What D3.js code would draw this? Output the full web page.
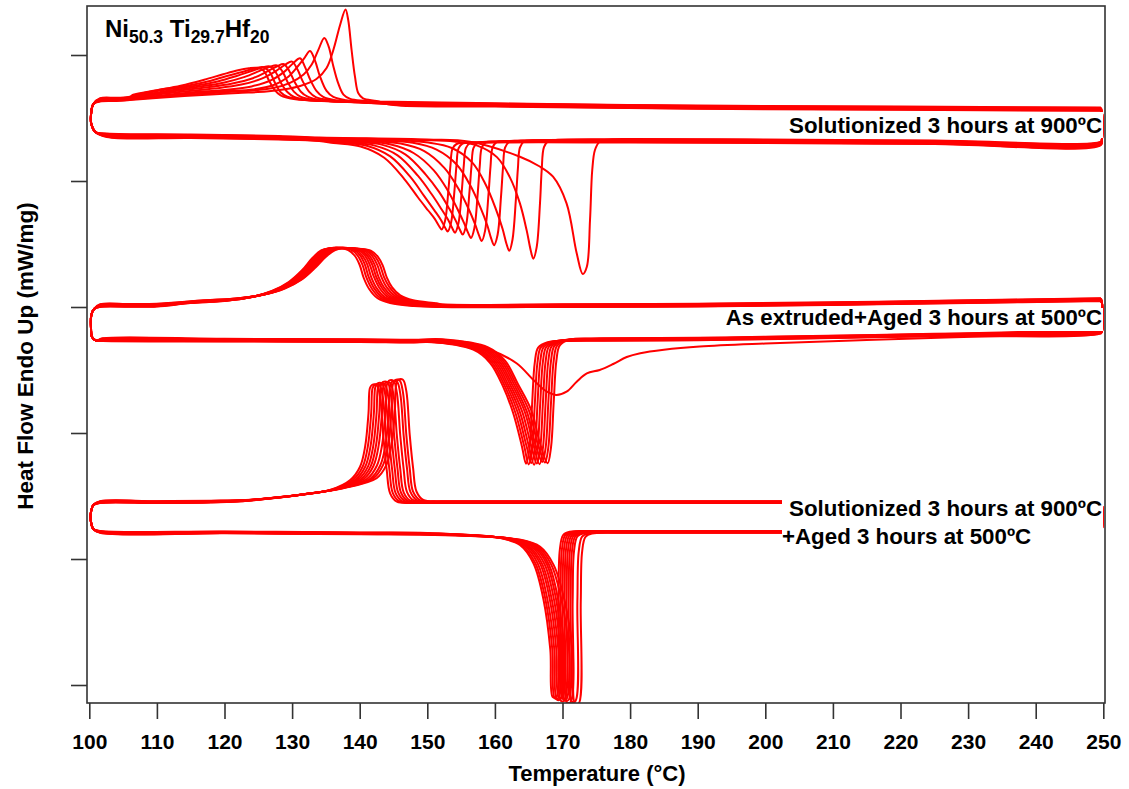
<!DOCTYPE html>
<html>
<head>
<meta charset="utf-8">
<script src="https://cdn.jsdelivr.net/npm/d3@7"></script>
<style>
  body { margin: 0; background: #fff; }
  text { font-family: "Liberation Sans", Arial, sans-serif; font-weight: bold; fill: #000; }
</style>
</head>
<body>
<svg id="chart" width="1129" height="789"></svg>
<script>
// ---- axes ----
const tempDomain = [99.66, 250.25];
const flowDomain = [-0.18, 6.79];
const xTicks = [100, 110, 120, 130, 140, 150, 160, 170, 180, 190, 200, 210, 220, 230, 240, 250];
const yTicks = [0, 1.26, 2.52, 3.78, 5.04, 6.30];

// ---- Solutionized 3 h at 900 ºC : shared baselines [T, heat flow] ----
const g1UpperBase = [[101.6,5.835],[104,5.84],[106,5.85],[145,5.80],[160,5.785],[190,5.762],[220,5.752],[249.65,5.742]];
const g1LowerBase = [[102.6,5.515],[115,5.505],[128,5.49],[134,5.475],[180,5.46],[200,5.455],[225,5.445],[249.65,5.435]];
const g1LeftTurn = [[100.6,5.81],[100.25,5.70],[100.3,5.61],[100.9,5.53]];
const g1RightTurn = [[249.8,5.46],[249.85,5.60],[249.8,5.72]];
const g1CoolShift = [0, 0.004, 0.008, 0.011, 0.014, 0.018, 0.021, 0.025, 0.028, 0.032];
const g1HeatShift = [0, -0.004, -0.008, -0.012, -0.016, -0.019, -0.023, -0.027, -0.031, -0.035];
// cooling exotherms, one list per thermal cycle
const g1Cool = [
  [[112,5.88],[118,5.905],[122,5.92],[126.2,5.935],[128.7,5.955],[131.2,5.99],[133.6,6.06],[135.1,6.17],[136.1,6.35],[137.1,6.60],[137.9,6.755],[138.3,6.65],[138.8,6.35],[139.3,6.083],[139.8,5.917],[140.5,5.867],[142.5,5.84]],
  [[112,5.885],[118,5.915],[123,5.935],[127.2,5.965],[129.7,6.017],[131.7,6.10],[132.9,6.20],[133.9,6.35],[134.76,6.467],[135.4,6.383],[136.1,6.183],[136.8,6.017],[137.6,5.90],[138.6,5.857],[141,5.835]],
  [[112,5.89],[118,5.925],[123.8,5.945],[127.2,5.99],[129.3,6.067],[130.7,6.167],[131.7,6.25],[132.65,6.333],[133.4,6.233],[134.1,6.083],[135.1,5.933],[136.1,5.873],[138,5.84]],
  [[110,5.88],[115,5.915],[120,5.94],[124,5.975],[127,6.04],[129,6.13],[130.2,6.21],[131.17,6.257],[131.9,6.17],[132.7,6.04],[133.6,5.93],[134.6,5.87],[136.5,5.835]],
  [[109,5.88],[114,5.92],[118.5,5.95],[122.5,5.99],[125.5,6.05],[127.7,6.13],[129,6.19],[129.99,6.22],[130.8,6.14],[131.6,6.02],[132.5,5.92],[133.5,5.865],[135.5,5.835]],
  [[108.5,5.88],[113,5.925],[117.5,5.96],[121,5.995],[124.2,6.05],[126.4,6.12],[127.8,6.17],[128.8,6.19],[129.6,6.12],[130.4,6.01],[131.3,5.915],[132.3,5.865],[134.3,5.83]],
  [[108,5.88],[112.5,5.93],[116.5,5.965],[120,6.005],[123,6.06],[125.2,6.12],[126.7,6.16],[127.77,6.175],[128.6,6.11],[129.4,6.00],[130.3,5.91],[131.3,5.86],[133.3,5.83]],
  [[107.5,5.88],[111.5,5.93],[115.5,5.965],[119,6.01],[121.8,6.065],[124,6.115],[125.6,6.15],[126.73,6.16],[127.6,6.10],[128.4,5.99],[129.3,5.905],[130.3,5.855],[132.3,5.825]],
  [[107,5.875],[110.5,5.925],[114.5,5.965],[118,6.015],[120.8,6.07],[123,6.11],[124.6,6.14],[125.77,6.15],[126.7,6.10],[127.5,5.99],[128.3,5.90],[129.3,5.855],[131.5,5.825]],
  [[106.5,5.87],[110,5.915],[113.5,5.96],[117,6.02],[119.8,6.075],[122,6.115],[123.6,6.135],[124.8,6.14],[125.8,6.11],[126.6,6.01],[127.4,5.92],[128.3,5.865],[130.5,5.825]]
];
// heating endotherms, one list per thermal cycle
const g1Heat = [
  [[150,5.455],[156.3,5.433],[163.7,5.283],[166.5,5.19],[168.6,5.083],[170.6,4.817],[172.1,4.317],[172.99,4.11],[173.6,4.183],[174.07,4.65],[174.4,5.15],[174.8,5.35],[175.5,5.433],[177,5.455]],
  [[149,5.455],[154,5.44],[157.3,5.40],[160.3,5.283],[162.2,5.083],[163.7,4.82],[164.7,4.55],[165.3,4.35],[165.68,4.267],[166.18,4.383],[166.67,4.82],[166.92,5.15],[167.26,5.383],[167.9,5.443],[169,5.455]],
  [[146.13,5.455],[150.13,5.433],[153.63,5.378],[156.63,5.234],[158.63,5.013],[160.13,4.77],[161.13,4.571],[161.73,4.416],[162.13,4.35],[162.6,4.461],[163.1,4.86],[163.4,5.171],[163.7,5.382],[164.3,5.443],[165.6,5.455]],
  [[143.87,5.455],[147.87,5.434],[151.37,5.366],[154.37,5.215],[156.37,5.006],[157.87,4.786],[158.87,4.609],[159.47,4.473],[159.87,4.41],[160.4,4.515],[160.9,4.893],[161.2,5.187],[161.5,5.386],[162.1,5.444],[163.4,5.455]],
  [[142.05,5.455],[146.05,5.43],[149.55,5.355],[152.55,5.185],[154.55,4.986],[156.05,4.786],[157.05,4.627],[157.65,4.512],[158.05,4.457],[158.55,4.56],[159.05,4.92],[159.35,5.20],[159.65,5.39],[160.25,5.445],[161.55,5.455]],
  [[140.46,5.455],[144.46,5.426],[147.96,5.339],[150.96,5.165],[152.96,4.972],[154.46,4.779],[155.46,4.635],[156.06,4.538],[156.46,4.49],[156.96,4.587],[157.46,4.936],[157.76,5.208],[158.06,5.392],[158.66,5.445],[159.96,5.455]],
  [[139.24,5.455],[143.24,5.427],[146.74,5.33],[149.74,5.13],[151.74,4.954],[153.24,4.787],[154.24,4.662],[154.84,4.573],[155.24,4.527],[155.74,4.62],[156.24,4.956],[156.54,5.217],[156.84,5.395],[157.44,5.445],[158.74,5.455]],
  [[138.1,5.455],[142.1,5.423],[145.6,5.324],[148.6,5.12],[150.6,4.939],[152.1,4.785],[153.1,4.677],[153.7,4.595],[154.1,4.55],[154.6,4.641],[155.1,4.969],[155.4,5.223],[155.7,5.396],[156.3,5.445],[157.6,5.455]],
  [[137.02,5.455],[141.02,5.424],[144.52,5.317],[147.52,5.109],[149.52,4.922],[151.02,4.78],[152.02,4.682],[152.62,4.607],[153.02,4.567],[153.52,4.656],[154.02,4.978],[154.32,5.228],[154.62,5.397],[155.22,5.445],[156.52,5.455]],
  [[136.13,5.455],[140.13,5.42],[143.63,5.308],[146.63,5.092],[148.63,4.91],[150.13,4.78],[151.13,4.694],[151.73,4.625],[152.13,4.59],[152.63,4.677],[153.13,4.99],[153.43,5.234],[153.73,5.399],[154.33,5.445],[155.63,5.455]]
];

// ---- As extruded + aged 3 h at 500 ºC ----
const g2UpperBase = [[101.6,3.78],[106,3.782],[110,3.785],[152,3.78],[170,3.78],[190,3.785],[210,3.80],[230,3.82],[249.65,3.84]];
const g2LowerBase = [[102,3.44],[120,3.435],[140,3.43],[148,3.425],[176,3.44],[190,3.445],[200,3.455],[225,3.485],[249.65,3.515]];
const g2LeftTurn = [[100.7,3.76],[100.3,3.70],[100.25,3.57],[100.4,3.48],[101.0,3.445]];
const g2RightTurn = [[249.8,3.54],[249.85,3.68],[249.8,3.82]];
const g2CoolShift = [0, 0.003, 0.006, 0.009, 0.012, 0.015, 0.018, 0.021, 0.024, 0.027];
const g2HeatShift = [0, 0.003, 0.006, 0.009, 0.012, 0.015, 0.018, 0.021, 0.024, 0.027];
const g2Cool = [
  [[115,3.82],[120,3.84],[124,3.88],[127,3.94],[129.5,4.03],[131.5,4.15],[133,4.27],[134.3,4.345],[135.5,4.365],[137,4.365],[138.3,4.35],[139.3,4.29],[140,4.20],[140.6,4.07],[141.4,3.96],[142.6,3.87],[144.5,3.82],[148,3.79]],
  [[115.2,3.82],[120.2,3.84],[124.2,3.88],[127.2,3.94],[129.7,4.03],[131.7,4.15],[133.2,4.27],[134.5,4.345],[135.7,4.365],[137.3,4.365],[138.7,4.35],[139.7,4.29],[140.4,4.20],[141,4.07],[141.8,3.96],[143,3.87],[144.9,3.82],[148.4,3.79]],
  [[115.45,3.82],[120.45,3.84],[124.45,3.88],[127.45,3.94],[129.95,4.03],[131.95,4.15],[133.45,4.27],[134.75,4.345],[135.95,4.365],[137.6,4.363],[139.05,4.348],[140.05,4.29],[140.75,4.20],[141.35,4.07],[142.15,3.96],[143.35,3.87],[145.25,3.82],[148.75,3.79]],
  [[115.65,3.82],[120.65,3.84],[124.65,3.88],[127.65,3.94],[130.15,4.03],[132.15,4.15],[133.65,4.27],[134.95,4.345],[136.15,4.363],[137.9,4.36],[139.4,4.345],[140.4,4.285],[141.1,4.20],[141.7,4.07],[142.5,3.96],[143.7,3.87],[145.6,3.82],[149.1,3.79]],
  [[115.9,3.82],[120.9,3.84],[124.9,3.88],[127.9,3.94],[130.4,4.03],[132.4,4.15],[133.9,4.27],[135.2,4.345],[136.4,4.36],[138.2,4.357],[139.8,4.34],[140.8,4.28],[141.5,4.19],[142.1,4.07],[142.9,3.96],[144.1,3.87],[146,3.82],[149.5,3.79]],
  [[116.1,3.82],[121.1,3.84],[125.1,3.88],[128.1,3.94],[130.6,4.03],[132.6,4.15],[134.1,4.27],[135.4,4.34],[136.6,4.357],[138.5,4.353],[140.15,4.335],[141.15,4.275],[141.85,4.19],[142.45,4.065],[143.25,3.96],[144.45,3.87],[146.35,3.82],[149.85,3.79]],
  [[116.35,3.82],[121.35,3.84],[125.35,3.88],[128.35,3.94],[130.85,4.03],[132.85,4.15],[134.35,4.265],[135.65,4.335],[136.85,4.353],[138.8,4.35],[140.5,4.33],[141.5,4.27],[142.2,4.185],[142.8,4.06],[143.6,3.955],[144.8,3.87],[146.7,3.82],[150.2,3.79]],
  [[116.55,3.82],[121.55,3.84],[125.55,3.88],[128.55,3.94],[131.05,4.03],[133.05,4.15],[134.55,4.26],[135.85,4.33],[137.05,4.35],[139.1,4.345],[140.9,4.325],[141.9,4.265],[142.6,4.18],[143.2,4.06],[144,3.955],[145.2,3.87],[147.1,3.82],[150.6,3.79]],
  [[116.8,3.82],[121.8,3.84],[125.8,3.88],[128.8,3.94],[131.3,4.03],[133.3,4.15],[134.8,4.26],[136.1,4.325],[137.3,4.345],[139.4,4.34],[141.3,4.32],[142.3,4.26],[143,4.175],[143.6,4.055],[144.4,3.955],[145.6,3.87],[147.5,3.82],[151,3.79]],
  [[117,3.82],[122,3.84],[126,3.88],[129,3.94],[131.5,4.03],[133.5,4.15],[135,4.255],[136.3,4.32],[137.5,4.34],[139.7,4.335],[141.7,4.315],[142.7,4.255],[143.4,4.17],[144,4.05],[144.8,3.95],[146,3.87],[147.9,3.82],[151.4,3.79]]
];
const g2Heat = [
  [[150,3.43],[156.3,3.39],[159.3,3.35],[163.2,3.217],[165.7,3.05],[167.7,2.933],[169.1,2.90],[170.6,2.933],[172.1,3.033],[173.6,3.117],[175.5,3.15],[177.5,3.21],[179.5,3.28],[181.5,3.318],[185,3.353],[190.3,3.385],[200,3.415],[215,3.45],[232,3.485],[249.5,3.515]],
  [[150,3.43],[156.8,3.35],[159.3,3.217],[161.2,2.983],[162.7,2.717],[164.0,2.383],[164.6,2.21],[165.1,2.35],[165.5,2.80],[165.9,3.22],[166.4,3.37],[167.8,3.425],[171,3.438]],
  [[150.27,3.43],[157.07,3.35],[159.57,3.217],[161.47,2.983],[163.03,2.717],[164.33,2.383],[165.0,2.20],[165.5,2.35],[165.9,2.80],[166.3,3.22],[166.8,3.37],[168.2,3.425],[171.4,3.438]],
  [[150.55,3.43],[157.35,3.35],[159.85,3.217],[161.75,2.983],[163.37,2.717],[164.67,2.383],[165.4,2.21],[165.9,2.35],[166.3,2.80],[166.7,3.22],[167.2,3.37],[168.6,3.425],[171.8,3.438]],
  [[150.82,3.43],[157.62,3.35],[160.12,3.217],[162.02,2.983],[163.7,2.717],[165.0,2.383],[165.8,2.19],[166.3,2.35],[166.7,2.80],[167.1,3.22],[167.6,3.37],[169,3.425],[172.2,3.438]],
  [[151.1,3.43],[157.9,3.35],[160.4,3.217],[162.3,2.983],[164.05,2.717],[165.35,2.383],[166.2,2.20],[166.7,2.35],[167.1,2.80],[167.5,3.22],[168,3.37],[169.4,3.425],[172.6,3.438]],
  [[151.37,3.43],[158.17,3.35],[160.67,3.217],[162.57,2.983],[164.4,2.717],[165.7,2.383],[166.6,2.19],[167.1,2.35],[167.5,2.80],[167.9,3.22],[168.4,3.37],[169.8,3.425],[173,3.438]],
  [[151.65,3.43],[158.45,3.35],[160.95,3.217],[162.85,2.983],[164.7,2.717],[166.0,2.383],[167.0,2.21],[167.5,2.35],[167.9,2.80],[168.3,3.22],[168.8,3.37],[170.2,3.425],[173.4,3.438]],
  [[151.92,3.43],[158.72,3.35],[161.22,3.217],[163.12,2.983],[165.05,2.717],[166.35,2.383],[167.4,2.20],[167.9,2.35],[168.3,2.80],[168.7,3.22],[169.2,3.37],[170.6,3.425],[173.8,3.438]],
  [[152.2,3.43],[159.0,3.35],[161.5,3.217],[163.4,2.983],[165.4,2.717],[166.7,2.383],[167.8,2.19],[168.3,2.35],[168.7,2.80],[169.1,3.22],[169.6,3.37],[171,3.425],[174.2,3.438]]
];

// ---- Solutionized 3 h at 900 ºC + aged 3 h at 500 ºC ----
const g3UpperBase = [[101.6,1.82],[110,1.82],[118,1.825],[152,1.82],[180,1.82],[220,1.82],[249.65,1.82]];
const g3LowerBase = [[101.6,1.54],[120,1.535],[140,1.525],[150,1.52],[178,1.54],[200,1.54],[225,1.54],[249.65,1.54]];
const g3LeftTurn = [[100.6,1.80],[100.25,1.73],[100.25,1.63],[100.6,1.56]];
const g3RightTurn = [[249.8,1.56],[249.85,1.68],[249.8,1.80]];
const g3CoolShift = [0, 0.002, 0.004, 0.006, 0.008, 0.010, 0.012, 0.014, 0.016, 0.018];
const g3HeatShift = [0, -0.002, -0.004, -0.006, -0.008, -0.010, -0.012, -0.014, -0.016, -0.018];
const g3Cool = [
  [[122,1.835],[126,1.86],[131,1.90],[135.6,1.95],[138.6,2.05],[140.05,2.183],[140.8,2.383],[141.3,2.717],[141.5,2.967],[141.8,3.0],[142.5,3.0],[143.0,2.883],[143.5,2.483],[144.0,2.15],[144.5,1.917],[145.5,1.833],[148,1.82]],
  [[122.2,1.835],[126.2,1.86],[131.2,1.90],[135.8,1.95],[139.0,2.05],[140.45,2.183],[141.2,2.383],[141.7,2.717],[141.9,2.967],[142.2,3.0],[142.9,3.0],[143.4,2.883],[143.9,2.483],[144.4,2.15],[144.9,1.917],[145.9,1.833],[148.4,1.82]],
  [[122.4,1.835],[126.4,1.86],[131.4,1.90],[136.0,1.95],[139.4,2.05],[140.85,2.183],[141.6,2.383],[142.1,2.717],[142.3,2.97],[142.6,3.01],[143.3,3.01],[143.8,2.89],[144.3,2.483],[144.8,2.15],[145.3,1.917],[146.3,1.833],[148.8,1.82]],
  [[122.6,1.835],[126.6,1.86],[131.6,1.90],[136.2,1.95],[139.8,2.05],[141.25,2.183],[142.0,2.383],[142.5,2.717],[142.7,2.967],[143.0,3.0],[143.7,3.0],[144.2,2.883],[144.7,2.483],[145.2,2.15],[145.7,1.917],[146.7,1.833],[149.2,1.82]],
  [[122.8,1.835],[126.8,1.86],[131.8,1.90],[136.4,1.95],[140.2,2.05],[141.65,2.183],[142.4,2.383],[142.9,2.717],[143.1,2.98],[143.4,3.02],[144.1,3.02],[144.6,2.9],[145.1,2.483],[145.6,2.15],[146.1,1.917],[147.1,1.833],[149.6,1.82]],
  [[123,1.835],[127,1.86],[132,1.90],[136.6,1.95],[140.6,2.05],[142.05,2.183],[142.8,2.383],[143.3,2.717],[143.5,2.975],[143.8,3.01],[144.5,3.01],[145.0,2.89],[145.5,2.483],[146.0,2.15],[146.5,1.917],[147.5,1.833],[150,1.82]],
  [[123.25,1.835],[127.25,1.86],[132.25,1.90],[136.85,1.95],[141.1,2.05],[142.55,2.183],[143.3,2.383],[143.8,2.717],[144.0,2.985],[144.3,3.03],[145.0,3.03],[145.5,2.91],[146.0,2.483],[146.5,2.15],[147.0,1.917],[148.0,1.833],[150.5,1.82]],
  [[123.5,1.835],[127.5,1.86],[132.5,1.90],[137.1,1.95],[141.6,2.05],[143.05,2.183],[143.8,2.383],[144.3,2.717],[144.5,2.98],[144.8,3.02],[145.5,3.02],[146.0,2.9],[146.5,2.483],[147.0,2.15],[147.5,1.917],[148.5,1.833],[151,1.82]],
  [[123.7,1.835],[127.7,1.86],[132.7,1.90],[137.3,1.95],[142.0,2.05],[143.45,2.183],[144.2,2.383],[144.7,2.717],[144.9,2.99],[145.2,3.03],[145.9,3.03],[146.4,2.91],[146.9,2.483],[147.4,2.15],[147.9,1.917],[148.9,1.833],[151.4,1.82]],
  [[123.95,1.835],[127.95,1.86],[132.95,1.90],[137.55,1.95],[142.5,2.05],[143.95,2.183],[144.7,2.383],[145.2,2.717],[145.4,2.995],[145.7,3.035],[146.4,3.035],[146.9,2.92],[147.4,2.483],[147.9,2.15],[148.4,1.917],[149.4,1.833],[151.9,1.82]]
];
const g3Heat = [
  [[160.8,1.47],[163.7,1.40],[165.7,1.217],[167.2,0.85],[168.2,0.35],[168.55,-0.12],[169.1,-0.117],[169.4,0.85],[169.6,1.35],[170.1,1.50],[171.1,1.533],[174,1.54]],
  [[161.1,1.47],[164.0,1.40],[166.0,1.217],[167.5,0.85],[168.5,0.35],[168.85,-0.13],[169.4,-0.127],[169.7,0.85],[169.9,1.35],[170.4,1.50],[171.4,1.533],[174.3,1.54]],
  [[161.45,1.47],[164.35,1.40],[166.35,1.217],[167.8,0.85],[168.8,0.35],[169.15,-0.14],[169.7,-0.137],[170.0,0.85],[170.2,1.35],[170.7,1.50],[171.7,1.533],[174.6,1.54]],
  [[161.8,1.47],[164.7,1.40],[166.7,1.217],[168.15,0.85],[169.1,0.35],[169.45,-0.12],[170.0,-0.117],[170.3,0.85],[170.5,1.35],[171.0,1.50],[172.0,1.533],[174.9,1.54]],
  [[162.1,1.47],[165.0,1.40],[167.0,1.217],[168.45,0.85],[169.4,0.35],[169.75,-0.15],[170.3,-0.147],[170.6,0.85],[170.8,1.35],[171.3,1.50],[172.3,1.533],[175.2,1.54]],
  [[162.45,1.47],[165.35,1.40],[167.35,1.217],[168.78,0.85],[169.7,0.35],[170.05,-0.13],[170.6,-0.127],[170.9,0.85],[171.1,1.35],[171.6,1.50],[172.6,1.533],[175.5,1.54]],
  [[162.8,1.47],[165.7,1.40],[167.7,1.217],[169.1,0.85],[170.0,0.35],[170.35,-0.14],[170.9,-0.137],[171.2,0.85],[171.4,1.35],[171.9,1.50],[172.9,1.533],[175.8,1.54]],
  [[163.1,1.47],[166.0,1.40],[168.0,1.217],[169.4,0.85],[170.3,0.35],[170.65,-0.16],[171.2,-0.157],[171.5,0.85],[171.7,1.35],[172.2,1.50],[173.2,1.533],[176.1,1.54]],
  [[163.45,1.47],[166.35,1.40],[168.35,1.217],[169.9,0.85],[171.0,0.35],[171.35,-0.15],[171.9,-0.147],[172.2,0.85],[172.4,1.35],[172.9,1.50],[173.9,1.533],[176.8,1.54]],
  [[163.8,1.47],[166.7,1.40],[168.7,1.217],[170.35,0.85],[171.5,0.35],[171.85,-0.17],[172.4,-0.167],[172.7,0.85],[172.9,1.35],[173.4,1.50],[174.4,1.533],[177.3,1.54]]
];

// ---- layout ----
const svg = d3.select("#chart");
const frame = { left: 87, top: 6, right: 1105, bottom: 703 };
const x = d3.scaleLinear().domain(tempDomain).range([frame.left, frame.right]);
const y = d3.scaleLinear().domain(flowDomain).range([frame.bottom, frame.top]);

svg.append("defs").append("clipPath").attr("id", "plotClip")
  .append("rect")
  .attr("x", frame.left).attr("y", frame.top)
  .attr("width", frame.right - frame.left).attr("height", frame.bottom - frame.top);

const plot = svg.append("g").attr("clip-path", "url(#plotClip)");

const line = d3.line()
  .x(d => x(d[0]))
  .y(d => y(d[1]))
  .curve(d3.curveCatmullRom.alpha(0.5));

// splice a cycle's peak into the shared baseline and offset it by the cycle drift
function branch(base, peak, shift, descending) {
  const lo = d3.min(peak, d => d[0]);
  const hi = d3.max(peak, d => d[0]);
  const pts = base.filter(d => d[0] < lo || d[0] > hi)
    .concat(peak)
    .map(d => [d[0], d[1] + shift]);
  pts.sort((a, b) => descending ? b[0] - a[0] : a[0] - b[0]);
  return pts;
}

const groups = [
  { up: g1UpperBase, low: g1LowerBase, lt: g1LeftTurn, rt: g1RightTurn, cool: g1Cool, heat: g1Heat, cs: g1CoolShift, hs: g1HeatShift },
  { up: g2UpperBase, low: g2LowerBase, lt: g2LeftTurn, rt: g2RightTurn, cool: g2Cool, heat: g2Heat, cs: g2CoolShift, hs: g2HeatShift },
  { up: g3UpperBase, low: g3LowerBase, lt: g3LeftTurn, rt: g3RightTurn, cool: g3Cool, heat: g3Heat, cs: g3CoolShift, hs: g3HeatShift }
];

// each cycle: cooling from 250 ºC down, around the low-T turn, heating back up, then close at 250 ºC
groups.forEach(g => {
  g.cool.forEach((c, k) => {
    const cool = branch(g.up, c, g.cs[k], true);
    const heat = branch(g.low, g.heat[k], g.hs[k], false);
    const pts = cool.concat(g.lt, heat, g.rt, [cool[0]]);
    plot.append("path")
      .attr("d", line(pts))
      .attr("fill", "none")
      .attr("stroke", "#ff0000")
      .attr("stroke-width", 2)
      .attr("stroke-linejoin", "round");
  });
});

// ---- sample labels (white backing boxes) ----
const labels = svg.append("g");
labels.append("rect").attr("x", 782).attr("y", 112).attr("width", 321).attr("height", 26).attr("fill", "#fff");
labels.append("text").attr("x", 1102).attr("y", 133).attr("text-anchor", "end").attr("font-size", 22.3)
  .text("Solutionized 3 hours at 900ºC");

labels.append("rect").attr("x", 722).attr("y", 308).attr("width", 381).attr("height", 23).attr("fill", "#fff");
labels.append("text").attr("x", 1102).attr("y", 325).attr("text-anchor", "end").attr("font-size", 22.2)
  .text("As extruded+Aged 3 hours at 500ºC");

labels.append("rect").attr("x", 782).attr("y", 489).attr("width", 321).attr("height", 60).attr("fill", "#fff");
labels.append("text").attr("x", 1102).attr("y", 516).attr("text-anchor", "end").attr("font-size", 22.3)
  .text("Solutionized 3 hours at 900ºC");
labels.append("text").attr("x", 782).attr("y", 544).attr("text-anchor", "start").attr("font-size", 22.3)
  .text("+Aged 3 hours at 500ºC");

// ---- alloy title ----
const title = svg.append("text").attr("x", 105).attr("y", 37).attr("font-size", 24);
title.append("tspan").text("Ni");
title.append("tspan").attr("font-size", 17.5).attr("dy", 6).text("50.3");
title.append("tspan").attr("dy", -6).text(" Ti");
title.append("tspan").attr("font-size", 17.5).attr("dy", 6).text("29.7");
title.append("tspan").attr("dy", -6).text("Hf");
title.append("tspan").attr("font-size", 17.5).attr("dy", 6).text("20");

// ---- frame and axes ----
svg.append("rect")
  .attr("x", frame.left).attr("y", frame.top)
  .attr("width", frame.right - frame.left).attr("height", frame.bottom - frame.top)
  .attr("fill", "none").attr("stroke", "#333").attr("stroke-width", 1.6);

const xAxis = svg.append("g")
  .attr("transform", `translate(0,${frame.bottom})`)
  .call(d3.axisBottom(x).tickValues(xTicks).tickSize(16).tickPadding(15).tickFormat(d3.format("d")));
xAxis.select(".domain").remove();
xAxis.selectAll(".tick line").attr("stroke", "#333").attr("stroke-width", 1.6);
xAxis.selectAll(".tick text").attr("font-size", 21).attr("font-family", null).attr("fill", "#000");

const yAxis = svg.append("g")
  .attr("transform", `translate(${frame.left},0)`)
  .call(d3.axisLeft(y).tickValues(yTicks).tickSize(16).tickFormat(""));
yAxis.select(".domain").remove();
yAxis.selectAll(".tick line").attr("stroke", "#333").attr("stroke-width", 1.6);

svg.append("text").attr("x", 597).attr("y", 781).attr("text-anchor", "middle").attr("font-size", 22)
  .text("Temperature (°C)");
svg.append("text").attr("transform", "translate(33,356) rotate(-90)").attr("text-anchor", "middle").attr("font-size", 22.5)
  .text("Heat Flow Endo Up (mW/mg)");
</script>
</body>
</html>
